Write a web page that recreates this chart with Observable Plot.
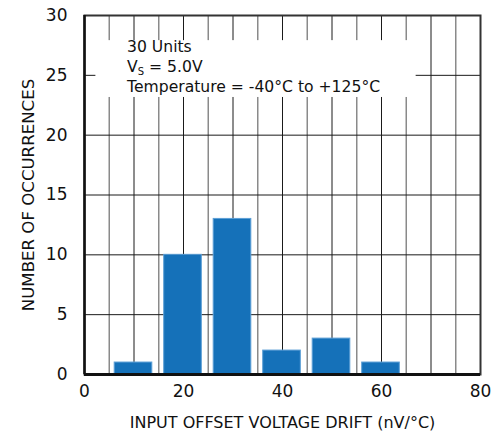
<!DOCTYPE html>
<html>
<head>
<meta charset="utf-8">
<script src="https://cdn.jsdelivr.net/npm/d3@7"></script>
<script src="https://cdn.jsdelivr.net/npm/@observablehq/plot@0.6"></script>
<style>
  html, body { margin: 0; padding: 0; background: #fff; }
  #chart svg { display: block; }
</style>
</head>
<body>
<div id="chart"></div>
<script>
// Histogram of input offset voltage drift
const binCenters = [10, 20, 30, 40, 50, 60];
const counts = [1, 10, 13, 2, 3, 1];
const binHalfLeft = 3.9;
const binHalfRight = 3.7;

const xTicks = [0, 20, 40, 60, 80];
const yTicks = [0, 5, 10, 15, 20, 25, 30];
const xGridMajor = [10, 20, 30, 40, 50, 60, 70];
const xGridMinor = [5, 15, 25, 35, 45, 55, 65, 75];
const yGrid = [5, 10, 15, 20, 25];

const noteLines = ["30 Units", "VS = 5.0V", "Temperature = -40°C to +125°C"];
const noteY = [27.4, 25.7, 24.0];
const noteX = 8.6;
// white panel behind the note block
const noteBox = [{x1: 2.3, x2: 67, y1: 23.15, y2: 27.9}];

const bins = binCenters.map((c, i) => ({x1: c - binHalfLeft, x2: c + binHalfRight, count: counts[i]}));
const notes = noteLines.map((t, i) => ({t, y: noteY[i], cls: i === 1}));

const font = "'DejaVu Sans', sans-serif";

const chart = Plot.plot({
  width: 494,
  height: 436,
  marginLeft: 84,
  marginRight: 14,
  marginTop: 15,
  marginBottom: 62,
  style: {fontFamily: font, fontSize: "15px", color: "#111", background: "#fff"},
  x: {domain: [0, 80]},
  y: {domain: [0, 30]},
  marks: [
    Plot.ruleX(xGridMinor, {stroke: "#8a8a8a", strokeWidth: 1.5}),
    Plot.ruleX(xGridMajor, {stroke: "#1a1a1a", strokeWidth: 1}),
    Plot.ruleY(yGrid, {stroke: "#1a1a1a", strokeWidth: 1}),
    Plot.rect(noteBox, {x1: "x1", x2: "x2", y1: "y1", y2: "y2", fill: "#fff"}),
    Plot.rectY(bins, {x1: "x1", x2: "x2", y: "count", fill: "#1571b9", stroke: "#5d9fd6", strokeWidth: 1}),
    Plot.frame({stroke: "#333", strokeWidth: 2}),
    Plot.ruleX([0], {stroke: "#111", strokeWidth: 2.5}),
    Plot.ruleY([0], {stroke: "#111", strokeWidth: 3}),
    Plot.text(notes.filter(d => !d.cls), {x: () => noteX, y: "y", text: "t", textAnchor: "start", fontSize: 15.6, fill: "#111"}),
    Plot.text(notes.filter(d => d.cls), {x: () => noteX, y: "y", text: "t", textAnchor: "start", fontSize: 15.6, fill: "#111", className: "vs-line"}),
    Plot.axisX(xTicks, {tickSize: 0, tickPadding: 10, fontSize: 17, label: null}),
    Plot.axisY(yTicks, {tickSize: 0, tickPadding: 17, fontSize: 17, label: null}),
    Plot.text(["INPUT OFFSET VOLTAGE DRIFT (nV/°C)"], {frameAnchor: "bottom", dy: 48, lineAnchor: "middle", fontSize: 16, fill: "#111"}),
    Plot.text(["NUMBER OF OCCURRENCES"], {frameAnchor: "left", dx: -56, rotate: -90, textAnchor: "middle", fontSize: 16.6, fill: "#111"})
  ]
});

// subscript S on the supply voltage line
const vs = chart.querySelector(".vs-line text");
if (vs) {
  vs.textContent = "";
  const ns = "http://www.w3.org/2000/svg";
  const a = document.createElementNS(ns, "tspan"); a.textContent = "V";
  const b = document.createElementNS(ns, "tspan"); b.textContent = "S";
  b.setAttribute("font-size", "10"); b.setAttribute("dy", "3");
  const c = document.createElementNS(ns, "tspan"); c.textContent = " = 5.0V";
  c.setAttribute("dy", "-3");
  vs.append(a, b, c);
}

document.getElementById("chart").append(chart);
</script>
</body>
</html>
